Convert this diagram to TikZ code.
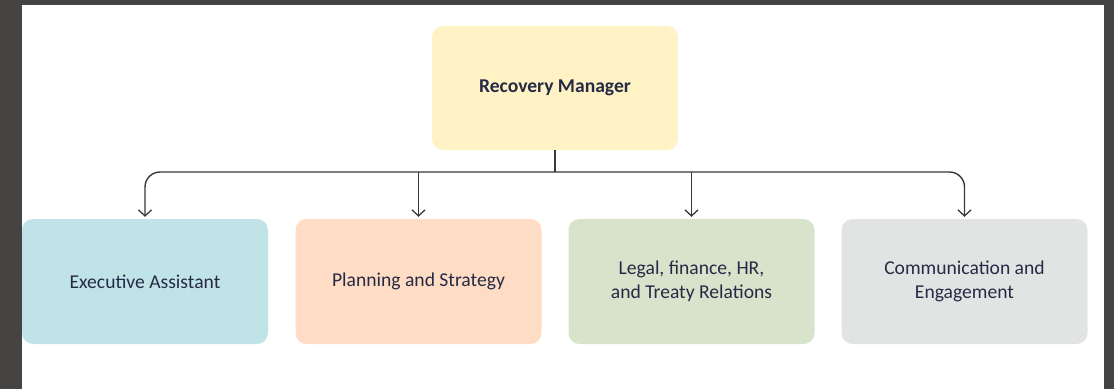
\documentclass[tikz,border=0pt]{standalone}
\usepackage{fontspec}
\setmainfont{Carlito}
\usetikzlibrary{arrows.meta}
\definecolor{frame}{HTML}{454443}
\definecolor{cman}{HTML}{FFF3C6}
\definecolor{cea}{HTML}{BFE3E7}
\definecolor{cpl}{HTML}{FFDCC4}
\definecolor{clg}{HTML}{D8E3CB}
\definecolor{ccm}{HTML}{E2E4E4}
\definecolor{ctext}{HTML}{262A45}
\definecolor{cline}{HTML}{383838}
\begin{document}
\begin{tikzpicture}[x=1pt,y=-1pt,
  box/.style={rounded corners=11pt, minimum width=246pt, minimum height=125pt,
    inner sep=0pt, align=center, text=ctext, font=\fontsize{19.6}{24.5}\selectfont},
  conn/.style={draw=cline, line width=1.4pt},
  arr/.style={conn, -{Straight Barb[length=6pt,width=13pt,line width=1.3pt]}, shorten >=2pt}]
\useasboundingbox (0,0) rectangle (1114,389);
\fill[frame] (0,0) rectangle (1114,389);
\fill[white] (22,5) rectangle (1104,389);
\node[box, fill=cman, minimum height=124pt, font=\bfseries\fontsize{19.6}{24.5}\selectfont] (m) at (555,88) {Recovery Manager};
\node[box, fill=cea] (ea) at (145,281.5) {Executive Assistant};
\node[box, fill=cpl] (pl) at (418.5,281.5) {Planning and Strategy};
\node[box, fill=clg] (lg) at (691.5,281.5) {Legal, finance, HR,\\and Treaty Relations};
\node[box, fill=ccm] (cm) at (964.5,281.5) {Communication and\\Engagement};
\coordinate (hub) at (555,172);
\draw[conn] (m.south) -- (hub);
\draw[arr, rounded corners=15pt] (hub) -| (ea.north);
\draw[arr, rounded corners=15pt] (hub) -| (cm.north);
\draw[arr] (pl.north |- hub) -- (pl.north);
\draw[arr] (lg.north |- hub) -- (lg.north);
\end{tikzpicture}
\end{document}
